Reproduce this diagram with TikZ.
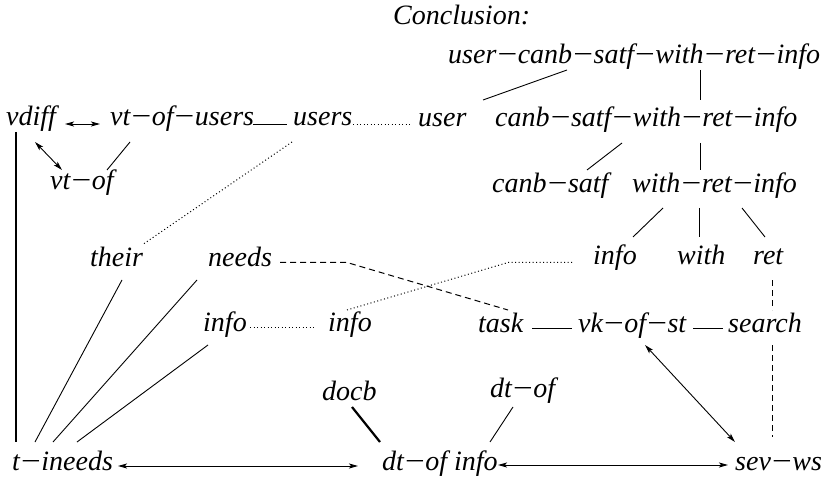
\documentclass[tikz,border=0pt]{standalone}
\usepackage{graphicx}
\usepackage{fontspec}
\setmainfont{Liberation Serif}
\usetikzlibrary{arrows.meta}
\newcommand\mn{\kern-0.04em\scalebox{1.25}[1]{−}\kern-0.04em}
\tikzset{
  lbl/.style={anchor=base west, inner sep=0pt, font=\fontsize{28}{34}\selectfont\itshape},
  ln/.style={line width=0.9pt},
  thk/.style={line width=2.6pt},
  dts/.style={line width=1pt, dash pattern=on 1pt off 2.5pt},
  dsh/.style={line width=1pt, dash pattern=on 6pt off 4pt},
  dbl/.style={line width=0.9pt, {Stealth[length=9pt,width=5pt,inset=2pt]}-{Stealth[length=9pt,width=5pt,inset=2pt]}},
}
\begin{document}
\begin{tikzpicture}[x=1pt,y=-1pt]
\useasboundingbox (0,0) rectangle (824,478);
% nodes
\node[lbl] (concl) at (393,25) {Conclusion:};
\node[lbl] (top) at (448,64) {user\mn canb\mn satf\mn with\mn ret\mn info};
\node[lbl] (vdiff) at (6,126) {vdiff};
\node[lbl] (vtofusers) at (110,126) {vt\mn of\mn users};
\node[lbl] (users) at (293,126) {users};
\node[lbl] (user) at (418,127) {user};
\node[lbl] (cs) at (495,127) {canb\mn satf\mn with\mn ret\mn info};
\node[lbl] (vtof) at (50,190) {vt\mn of};
\node[lbl] (canbsatf) at (492,193) {canb\mn satf};
\node[lbl] (wri) at (632,193) {with\mn ret\mn info};
\node[lbl] (their) at (90,266) {their};
\node[lbl] (needs) at (208,266) {needs};
\node[lbl] (infoR) at (593,265) {info};
\node[lbl] (with) at (677,265) {with};
\node[lbl] (ret) at (753,265) {ret};
\node[lbl] (infoL) at (203,331) {info};
\node[lbl] (infoM) at (328,331) {info};
\node[lbl] (task) at (478,332) {task};
\node[lbl] (vk) at (578,332) {vk\mn of\mn st};
\node[lbl] (search) at (728,332) {search};
\node[lbl] (docb) at (322,400) {docb};
\node[lbl] (dtof) at (490,397) {dt\mn of};
\node[lbl] (tineeds) at (12,470) {t\mn ineeds};
\node[lbl] (dtofinfo) at (382,470) {dt\mn of info};
\node[lbl] (sevws) at (735,470) {sev\mn ws};
\coordinate (dbend) at (347,262.5);
\coordinate (obend) at (508,262.5);
% connectors
\draw[dbl] ([shift={(59,-2)}]vdiff.base west) -- ([shift={(-10,-2)}]vtofusers.base west);
\draw[ln] ([shift={(143,-2)}]vtofusers.base west) -- ([shift={(-6,-2)}]users.base west);
\draw[dts] ([shift={(60,-1.5)}]users.base west) -- ([shift={(-8,-2.5)}]user.base west);
\draw[dbl] ([shift={(29,16)}]vdiff.base west) -- ([shift={(12,-20)}]vtof.base west);
\draw[ln] ([shift={(20,16)}]vtofusers.base west) -- ([shift={(57,-20)}]vtof.base west);
\draw[thk] ([shift={(10,6)}]vdiff.base west) -- ([shift={(4,-28)}]tineeds.base west);
\draw[dts] ([shift={(-1,16)}]users.base west) -- ([shift={(52,-21)}]their.base west);
\draw[ln] ([shift={(119,6)}]top.base west) -- ([shift={(65,-27)}]user.base west);
\draw[ln] ([shift={(252,6)}]top.base west) -- ([shift={(205,-27)}]cs.base west);
\draw[ln] ([shift={(127,16)}]cs.base west) -- ([shift={(95,-23)}]canbsatf.base west);
\draw[ln] ([shift={(205,16)}]cs.base west) -- ([shift={(68,-23)}]wri.base west);
\draw[ln] ([shift={(31,15)}]wri.base west) -- ([shift={(40,-28)}]infoR.base west);
\draw[ln] ([shift={(67,15)}]wri.base west) -- ([shift={(22,-28)}]with.base west);
\draw[ln] ([shift={(110,15)}]wri.base west) -- ([shift={(12,-28)}]ret.base west);
\draw[dsh] ([shift={(19,15)}]ret.base west) -- ([shift={(44,-22)}]search.base west);
\draw[dsh] ([shift={(44,13)}]search.base west) -- ([shift={(37,-33)}]sevws.base west);
\draw[ln] ([shift={(54,-4)}]task.base west) -- ([shift={(-6,-4)}]vk.base west);
\draw[ln] ([shift={(115,-4)}]vk.base west) -- ([shift={(-5,-4)}]search.base west);
\draw[dbl] ([shift={(67,13)}]vk.base west) -- ([shift={(0,-28)}]sevws.base west);
\draw[dsh] ([shift={(72,-3.5)}]needs.base west) -- (dbend) -- ([shift={(30,-22)}]task.base west);
\draw[dts] ([shift={(19,-21)}]infoM.base west) -- (obend) -- ([shift={(-21,-2.5)}]infoR.base west);
\draw[dts] ([shift={(47,-3.5)}]infoL.base west) -- ([shift={(-13,-3.5)}]infoM.base west);
\draw[ln] ([shift={(32,14)}]their.base west) -- ([shift={(23,-28)}]tineeds.base west);
\draw[ln] ([shift={(-11,14)}]needs.base west) -- ([shift={(41,-28)}]tineeds.base west);
\draw[ln] ([shift={(5,14)}]infoL.base west) -- ([shift={(65,-28)}]tineeds.base west);
\draw[line width=2.2pt] ([shift={(30,7)}]docb.base west) -- ([shift={(-2,-28)}]dtofinfo.base west);
\draw[ln] ([shift={(23,10)}]dtof.base west) -- ([shift={(108,-28)}]dtofinfo.base west);
\draw[dbl] ([shift={(106,-4)}]tineeds.base west) -- ([shift={(-24,-4)}]dtofinfo.base west);
\draw[dbl] ([shift={(116,-5)}]dtofinfo.base west) -- ([shift={(-7,-5)}]sevws.base west);
\end{tikzpicture}
\end{document}
